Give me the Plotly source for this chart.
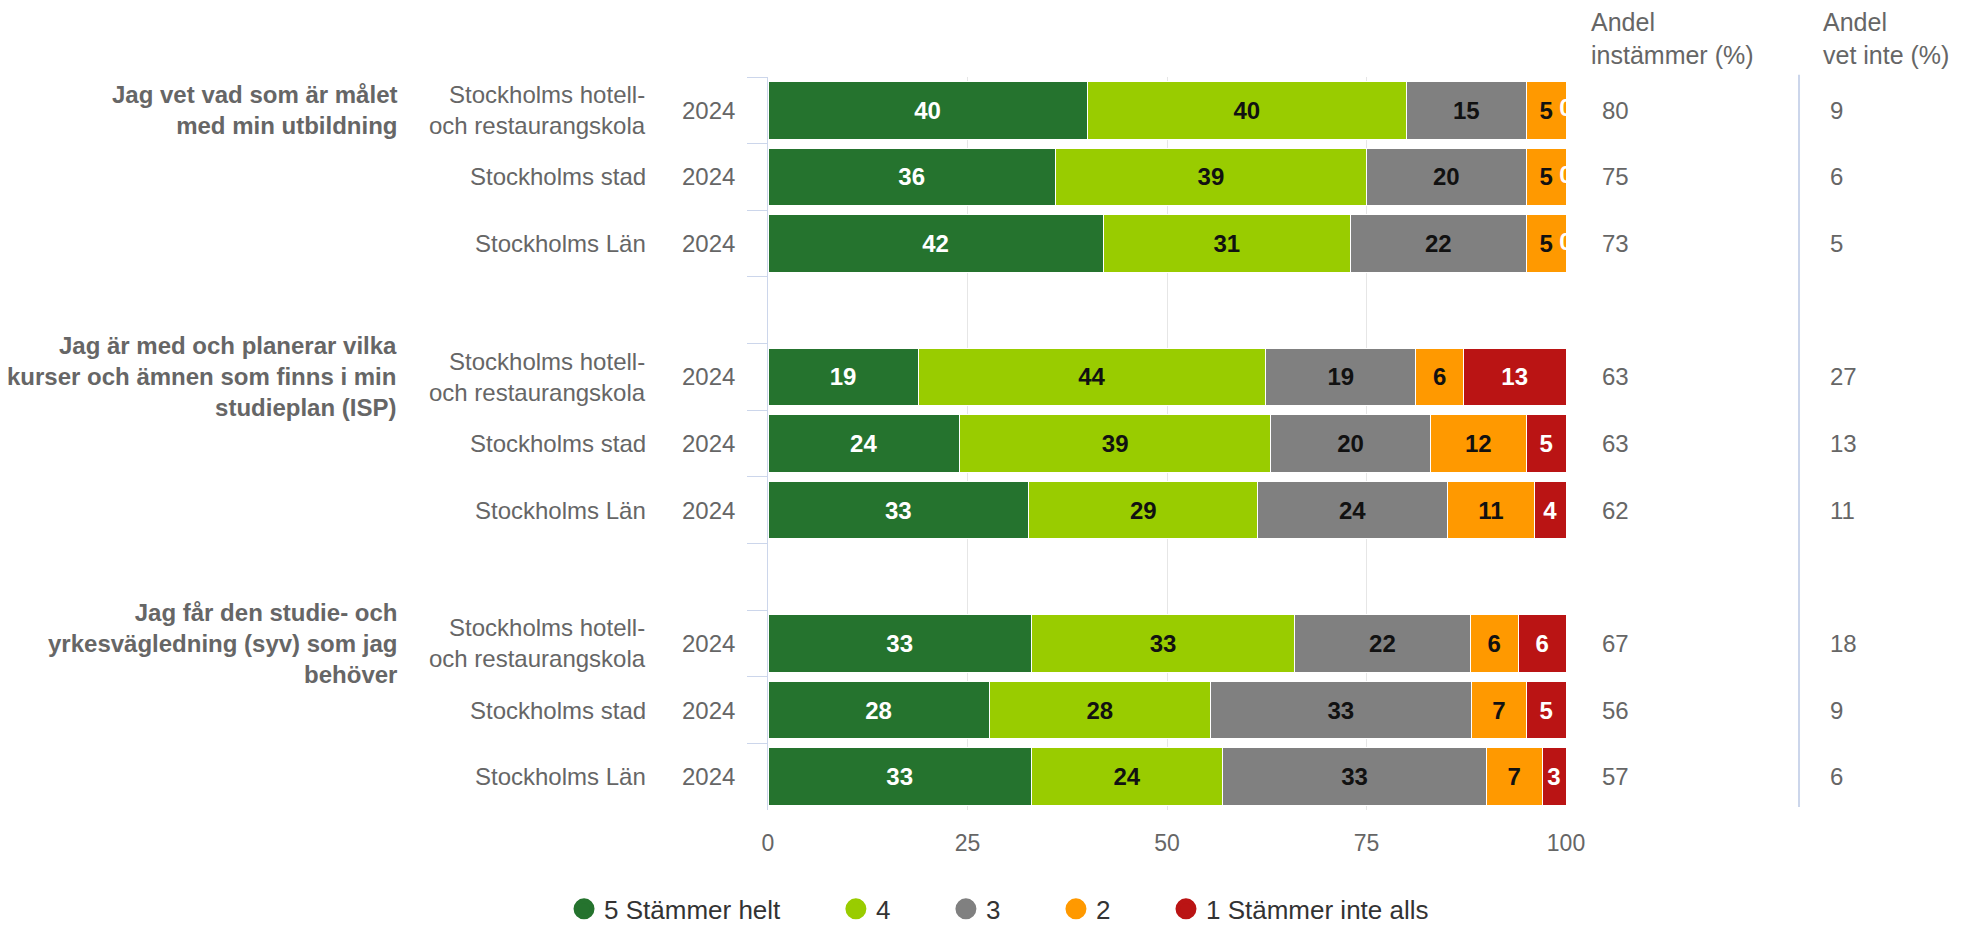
import plotly.graph_objects as go

# ---------------- data ----------------
questions = [
    "Jag vet vad som är målet<br>med min utbildning",
    "Jag är med och planerar vilka<br>kurser och ämnen som finns i min<br>studieplan (ISP)",
    "Jag får den studie- och<br>yrkesvägledning (syv) som jag<br>behöver",
]
units = ["Stockholms hotell-<br>och restaurangskola", "Stockholms stad", "Stockholms Län"]
unit_keys = ["Stockholms hotell- och restaurangskola", "Stockholms stad", "Stockholms Län"]
year_label = "2024"

series_names = ["5 Stämmer helt", "4", "3", "2", "1 Stämmer inte alls"]
series_colors = ["#25732e", "#99cc00", "#808080", "#ff9900", "#ba1414"]
label_colors = ["#ffffff", "#111111", "#111111", "#111111", "#ffffff"]

# rows: Q1 (hotell, stad, län), Q2 (...), Q3 (...)
s5 = [40, 36, 42, 19, 24, 33, 33, 28, 33]
s4 = [40, 39, 31, 44, 39, 29, 33, 28, 24]
s3 = [15, 20, 22, 19, 20, 24, 22, 33, 33]
s2 = [5, 5, 5, 6, 12, 11, 6, 7, 7]
s1 = [0, 0, 0, 13, 5, 4, 6, 5, 3]
andel_instammer = [80, 75, 73, 63, 63, 62, 67, 56, 57]
andel_vet_inte = [9, 6, 5, 27, 13, 11, 18, 9, 6]
header_instammer = "Andel<br>instämmer (%)"
header_vet_inte = "Andel<br>vet inte (%)"
x_ticks = [0, 25, 50, 75, 100]

# ---------------- build ----------------
series = [s5, s4, s3, s2, s1]
row_keys = [f"Q{q + 1} · {u}" for q in range(len(questions)) for u in unit_keys]
n_units = len(unit_keys)

category_order = []
for q in range(len(questions)):
    category_order += row_keys[q * n_units:(q + 1) * n_units]
    if q < len(questions) - 1:
        category_order.append(f"gap {q + 1}")

FONT = "Liberation Sans, Arial, Helvetica, sans-serif"
GRAY_TEXT = "#666666"

fig = go.Figure()

for name, vals, col, tcol in zip(series_names, series, series_colors, label_colors):
    fig.add_trace(go.Bar(
        x=vals, y=row_keys, orientation="h", name=name,
        marker=dict(color=col, line=dict(color="#ffffff", width=1)),
        text=[str(v) if v > 0 else "" for v in vals],
        textposition="inside", insidetextanchor="middle", textangle=0,
        textfont=dict(family=FONT, size=24, color=tcol, weight="bold"),
        showlegend=False, hoverinfo="skip",
    ))

# zero-value labels sitting at the end of the stack (clipped by the plot area)
zero_rows = [k for k, v in zip(row_keys, s1) if v == 0]
fig.add_trace(go.Scatter(
    x=[x_ticks[-1]] * len(zero_rows), y=zero_rows, mode="text",
    text=["0"] * len(zero_rows), textposition="middle center",
    textfont=dict(family=FONT, size=24, color="#ffffff", weight="bold"),
    cliponaxis=True, showlegend=False, hoverinfo="skip",
))

# legend entries (circles)
pad = "\u00a0" * 7
for i, (name, col) in enumerate(zip(series_names, series_colors)):
    fig.add_trace(go.Scatter(
        x=[None], y=[None], mode="markers",
        name=name + (pad if i < len(series_names) - 1 else ""),
        marker=dict(symbol="circle", size=16, color=col, line=dict(color=col, width=5)),
    ))

annotations = []
# question labels
for q, qtext in enumerate(questions):
    annotations.append(dict(
        x=-0.4625, xref="paper", xanchor="right", align="right",
        y=row_keys[q * n_units], yref="y", yanchor="middle",
        text=qtext, showarrow=False,
        font=dict(family=FONT, size=24, color=GRAY_TEXT, weight="bold"),
    ))
# unit + year labels, right-hand columns
for i, key in enumerate(row_keys):
    u = units[i % n_units]
    annotations.append(dict(
        x=-0.1504, xref="paper", xanchor="right", align="right",
        y=key, yref="y", yanchor="middle", text=u, showarrow=False,
        font=dict(family=FONT, size=24, color=GRAY_TEXT),
    ))
    annotations.append(dict(
        x=-0.0745, xref="paper", xanchor="center",
        y=key, yref="y", yanchor="middle", text=year_label, showarrow=False,
        font=dict(family=FONT, size=24, color=GRAY_TEXT),
    ))
    annotations.append(dict(
        x=1.0425, xref="paper", xanchor="left",
        y=key, yref="y", yanchor="middle", text=str(andel_instammer[i]), showarrow=False,
        font=dict(family=FONT, size=24, color=GRAY_TEXT),
    ))
    annotations.append(dict(
        x=1.3285, xref="paper", xanchor="left",
        y=key, yref="y", yanchor="middle", text=str(andel_vet_inte[i]), showarrow=False,
        font=dict(family=FONT, size=24, color=GRAY_TEXT),
    ))
for hx, htext in [(1.0288, header_instammer), (1.3195, header_vet_inte)]:
    annotations.append(dict(
        x=hx, xref="paper", xanchor="left", align="left",
        y=1.053, yref="paper", yanchor="middle", text=htext, showarrow=False,
        font=dict(family=FONT, size=25, color=GRAY_TEXT),
    ))

fig.update_layout(
    width=1962, height=925,
    margin=dict(l=768, r=396, t=77, b=115, pad=0, autoexpand=False),
    paper_bgcolor="#ffffff", plot_bgcolor="#ffffff",
    barmode="stack", barnorm="percent", bargap=0.135,
    font=dict(family=FONT, color=GRAY_TEXT),
    annotations=annotations,
    shapes=[dict(type="line", xref="paper", yref="paper", x0=1.292, x1=1.292,
                 y0=0.004, y1=1.003, line=dict(color="#ccd6eb", width=2))],
    legend=dict(orientation="h", traceorder="normal", x=-0.2556, xanchor="left",
                y=-0.135, yanchor="middle",
                font=dict(family=FONT, size=26, color="#333333"),
                itemsizing="trace", bgcolor="rgba(0,0,0,0)"),
    xaxis=dict(range=[x_ticks[0], x_ticks[-1]], tickvals=x_ticks, ticktext=[str(t) for t in x_ticks],
               showgrid=True, gridcolor="#e6e6e6", gridwidth=1, zeroline=False, showline=False,
               ticks="outside", ticklen=12, tickcolor="rgba(0,0,0,0)",
               tickfont=dict(family=FONT, size=23, color=GRAY_TEXT), fixedrange=True),
    yaxis=dict(type="category", categoryorder="array", categoryarray=category_order,
               range=[len(category_order) - 0.5, -0.5],
               showticklabels=False, showgrid=False, zeroline=False,
               showline=True, linecolor="#ccd6eb", linewidth=1,
               ticks="outside", tickson="boundaries", ticklen=20, tickcolor="#ccd6eb", tickwidth=1,
               fixedrange=True),
)

fig.write_html("out.html", config={"displayModeBar": False},
               post_script="document.body.style.margin='0';document.body.style.overflow='hidden';")
